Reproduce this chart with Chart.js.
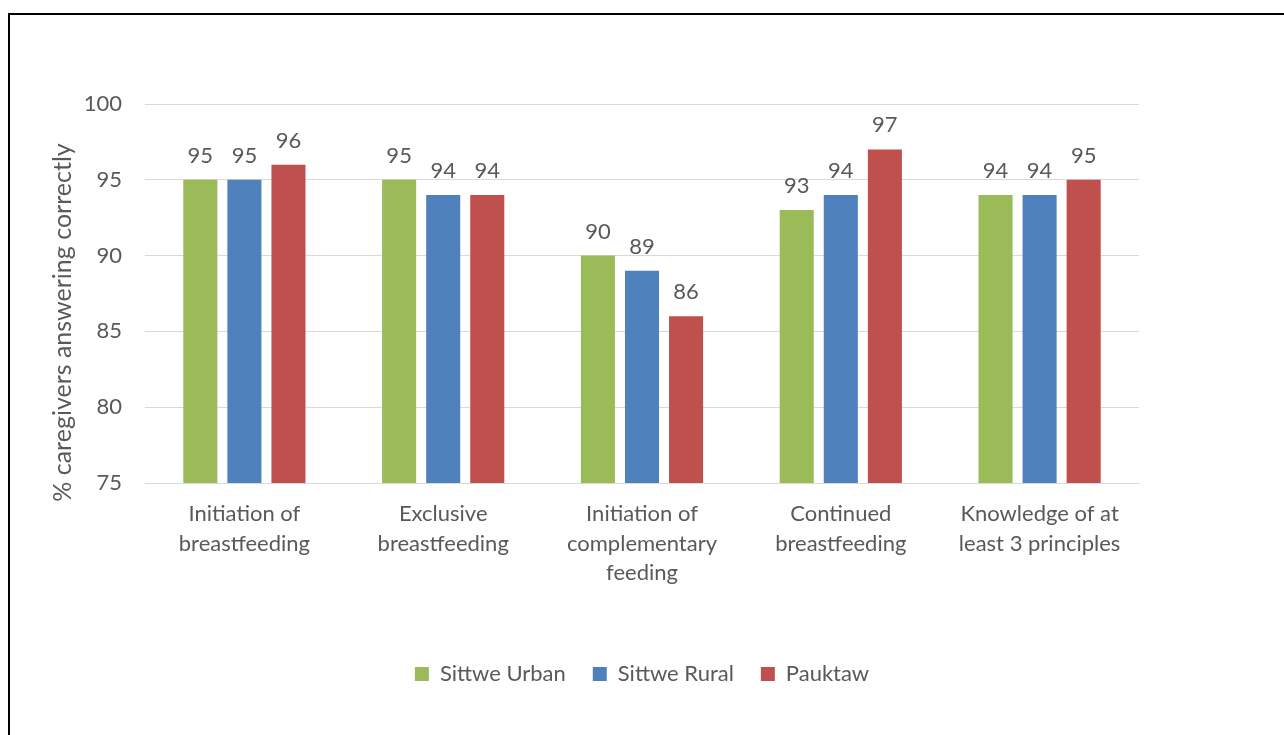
<!DOCTYPE html>
<html>
<head>
<meta charset="utf-8">
<script src="https://cdn.jsdelivr.net/npm/chart.js@4.4.1/dist/chart.umd.min.js"></script>
<style>
  html, body { margin: 0; padding: 0; background: #ffffff; }
  #wrap { position: relative; width: 1284px; height: 735px; overflow: hidden; }
  #frame { position: absolute; left: 8px; top: 13px; width: 1300px; height: 760px;
           border-left: 2px solid #000; border-top: 2px solid #000; box-sizing: border-box; }
  canvas { position: absolute; left: 0; top: 0; }
</style>
</head>
<body>
<div id="wrap">
  <div id="frame"></div>
  <canvas id="chart" width="1284" height="735"></canvas>
</div>
<script>
const categories = [
  ["Initiation of", "breastfeeding"],
  ["Exclusive", "breastfeeding"],
  ["Initiation of", "complementary", "feeding"],
  ["Continued", "breastfeeding"],
  ["Knowledge of at", "least 3 principles"]
];
const sittweUrban = [95, 95, 90, 93, 94];
const sittweRural = [95, 94, 89, 94, 94];
const pauktaw = [96, 94, 86, 97, 95];
const yTicks = [75, 80, 85, 90, 95, 100];
const yTitle = "% caregivers answering correctly";

const FONT = "Lato";
const TEXT = "#595959";

// Writes each bar's value just above it
const valueLabels = {
  id: "valueLabels",
  afterDatasetsDraw(chart) {
    const ctx = chart.ctx;
    ctx.save();
    ctx.font = "22px " + FONT;
    ctx.fillStyle = TEXT;
    ctx.textAlign = "center";
    ctx.textBaseline = "alphabetic";
    chart.data.datasets.forEach((ds, i) => {
      chart.getDatasetMeta(i).data.forEach((bar, j) => {
        ctx.fillText(String(ds.data[j]), bar.x, bar.y - 17);
      });
    });
    ctx.restore();
  }
};

// Vertical axis title, set a little below the plot's middle
const axisTitle = {
  id: "axisTitle",
  afterDraw(chart) {
    const ctx = chart.ctx;
    const area = chart.chartArea;
    ctx.save();
    ctx.font = "25px " + FONT;
    ctx.fillStyle = TEXT;
    ctx.textAlign = "center";
    ctx.textBaseline = "middle";
    ctx.translate(63, (area.top + area.bottom) / 2 + 29);
    ctx.rotate(-Math.PI / 2);
    ctx.fillText(yTitle, 0, 0);
    ctx.restore();
  }
};

new Chart(document.getElementById("chart"), {
  type: "bar",
  data: {
    labels: categories,
    datasets: [
      { label: "Sittwe Urban", data: sittweUrban, backgroundColor: "#9BBB59" },
      { label: "Sittwe Rural", data: sittweRural, backgroundColor: "#4F81BD" },
      { label: "Pauktaw", data: pauktaw, backgroundColor: "#C0504D" }
    ]
  },
  options: {
    responsive: false,
    animation: false,
    events: [],
    layout: { padding: { left: 40, right: 145, top: 104, bottom: 40 } },
    datasets: { bar: { categoryPercentage: 0.665, barPercentage: 0.773 } },
    plugins: {
      tooltip: { enabled: false },
      legend: {
        position: "bottom",
        fullSize: false,
        labels: {
          font: { family: FONT, size: 22 },
          color: TEXT,
          boxWidth: 14,
          boxHeight: 14,
          padding: 27
        }
      }
    },
    scales: {
      x: {
        grid: { display: false },
        border: { color: "#d9d9d9", width: 1 },
        ticks: {
          color: TEXT,
          font: { family: FONT, size: 22, lineHeight: 1.35 },
          padding: 8,
          maxRotation: 0,
          autoSkip: false
        },
        afterFit(scale) { scale.height = 153; }
      },
      y: {
        min: 75,
        max: 100,
        afterBuildTicks(scale) { scale.ticks = yTicks.map(v => ({ value: v })); },
        grid: { color: "#d9d9d9", lineWidth: 1, drawTicks: false },
        border: { display: false },
        ticks: { color: TEXT, font: { family: FONT, size: 22 }, padding: 23 },
        afterFit(scale) { scale.width = 105; }
      }
    }
  },
  plugins: [valueLabels, axisTitle]
});
</script>
</body>
</html>
